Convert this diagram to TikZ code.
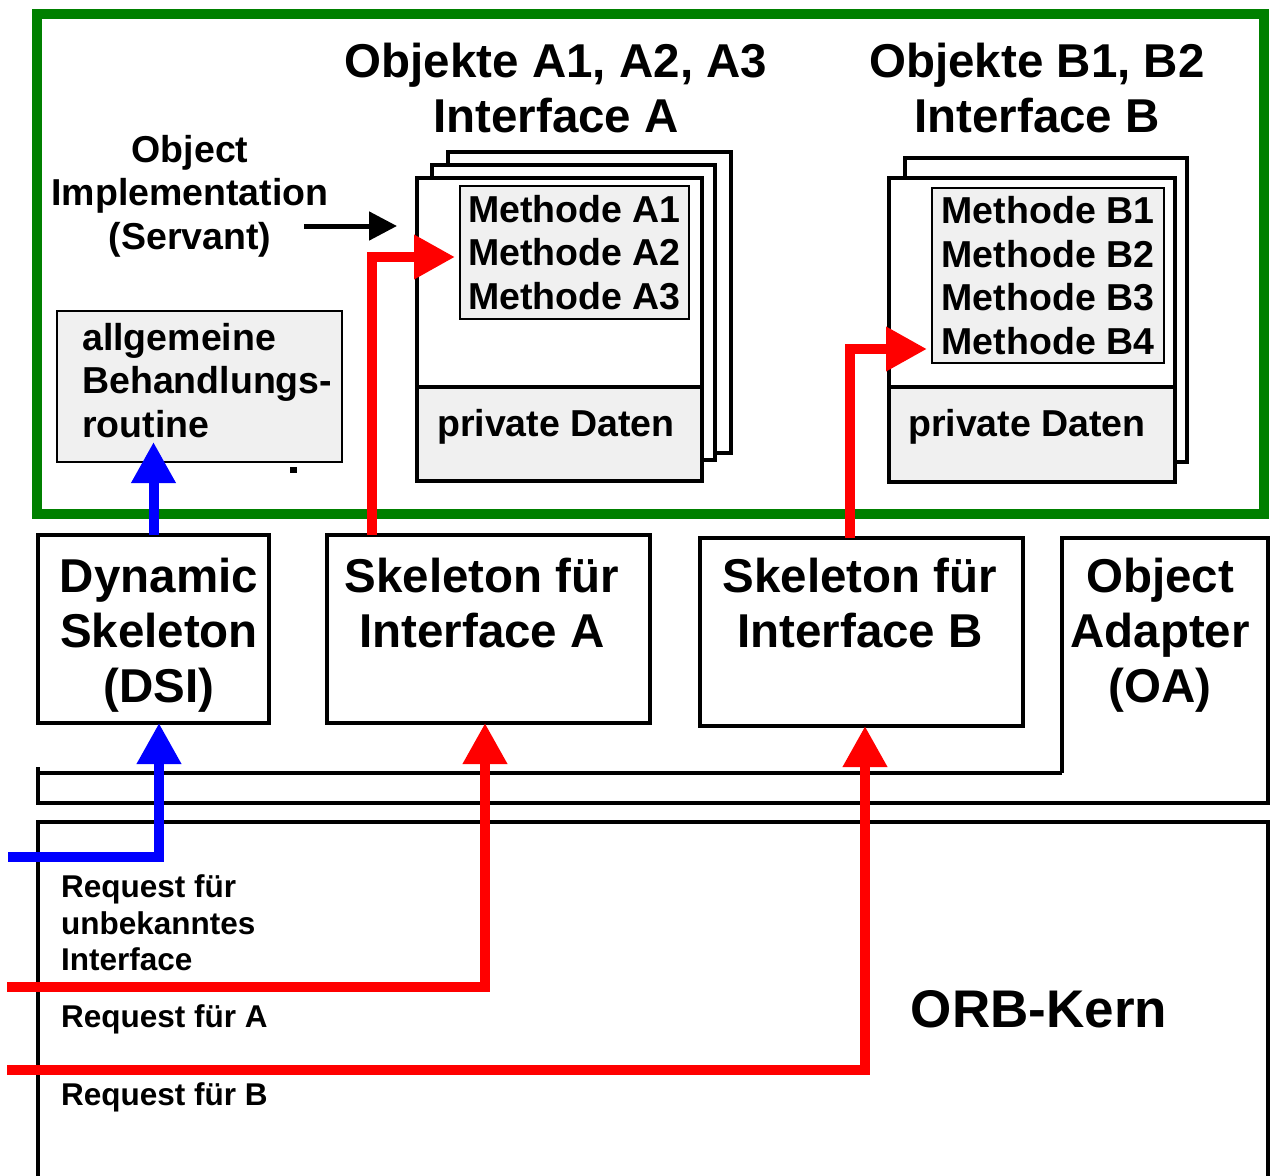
\documentclass[tikz,border=0pt]{standalone}
\usepackage{fontspec}
\setmainfont{Liberation Sans}
\usetikzlibrary{arrows.meta}
\definecolor{frgreen}{RGB}{0,128,0}
\definecolor{lgray}{RGB}{240,240,240}
\definecolor{arred}{RGB}{255,0,0}
\definecolor{arblue}{RGB}{0,0,255}
\begin{document}
\begin{tikzpicture}[x=1pt,y=-1pt,
  frame/.style={draw=frgreen, line width=10pt, inner sep=0pt, outer sep=0pt},
  card/.style={draw, line width=4.5pt, fill=white, inner sep=0pt, outer sep=0pt},
  plainbox/.style={draw, line width=4pt, fill=white, inner sep=0pt, outer sep=0pt},
  greybox/.style={draw, line width=2pt, fill=lgray, inner sep=0pt, outer sep=0pt,
     font=\fontsize{37.5}{43.5}\selectfont\bfseries, align=left},
  datbox/.style={draw, line width=4.5pt, fill=lgray, inner sep=0pt, outer sep=0pt},
  bigtext/.style={font=\fontsize{47.5}{55}\selectfont\bfseries, align=center, inner sep=0pt, anchor=north},
  midtext/.style={font=\fontsize{37.5}{43.5}\selectfont\bfseries, inner sep=0pt},
  smalltext/.style={font=\fontsize{31.5}{36.5}\selectfont\bfseries, align=left, inner sep=0pt, anchor=north west},
  orbtext/.style={font=\fontsize{53}{60}\selectfont\bfseries, inner sep=0pt, anchor=north},
  redarr/.style={draw=arred, line width=10pt, line join=miter, -{Triangle[length=41pt,width=42pt]}},
  bluearr/.style={draw=arblue, line width=10pt, line join=miter, -{Triangle[length=41pt,width=42pt]}},
  blackarr/.style={draw=black, line width=5pt, -{Triangle[length=28pt,width=28pt]}},
  outline/.style={draw, line width=4pt, line join=miter}
]
\useasboundingbox (0,0) rectangle (1270,1176);

% green frame
\node[frame, minimum width=1227, minimum height=500] (frame) at (650.5,264) {};

% titles
\node[bigtext] (titA) at (556,43) {Objekte A1, A2, A3\\Interface A};
\node[bigtext] (titB) at (1037,43) {Objekte B1, B2\\Interface B};

% object implementation label
\node[midtext, align=center, anchor=north] (impl) at (190,135) {Object\\Implementation\\(Servant)};

% general handling routine
\node[greybox, minimum width=285, minimum height=151] (allg) at (199.5,386.5) {};
\node[midtext, align=left, anchor=north west] (allgtext) at (82,323) {allgemeine\\Behandlungs-\\routine};
\fill (290,467) rectangle (297,473);

% cards A
\node[card, minimum width=283, minimum height=301] (a3) at (589.5,302.5) {};
\node[card, minimum width=283, minimum height=295] (a2) at (573.5,312.5) {};
\node[card, minimum width=285, minimum height=303] (a1) at (559.5,329.5) {};
\node[datbox, minimum width=285, minimum height=94] (datA) at (559.5,434) {};
\node[midtext, anchor=north] (datAtext) at (556,409) {private Daten};
\node[greybox, minimum width=229, minimum height=133] (methA) at (574.5,252.5)
  {Methode A1\\Methode A2\\Methode A3};

% cards B
\node[card, minimum width=282, minimum height=304] (b2) at (1046,310) {};
\node[card, minimum width=286, minimum height=304] (b1) at (1032,330) {};
\node[datbox, minimum width=286, minimum height=95] (datB) at (1032,434.5) {};
\node[midtext, anchor=north] (datBtext) at (1027,409) {private Daten};
\node[greybox, minimum width=232, minimum height=175] (methB) at (1048,275.5)
  {Methode B1\\Methode B2\\Methode B3\\Methode B4};

% skeleton boxes
\node[plainbox, minimum width=231, minimum height=188] (dsi) at (153.5,629) {};
\node[bigtext] (dsitext) at (159,558) {Dynamic\\Skeleton\\(DSI)};
\node[plainbox, minimum width=323, minimum height=188] (skelA) at (488.5,629) {};
\node[bigtext] (skelAtext) at (482,558) {Skeleton für\\Interface A};
\node[plainbox, minimum width=323, minimum height=188] (skelB) at (861.5,632) {};
\node[bigtext] (skelBtext) at (860,558) {Skeleton für\\Interface B};

% object adapter
\draw[outline] (1062,773) -- (1062,538) -- (1268,538) -- (1268,803) -- (38,803) -- (38,767);
\draw[outline] (38,773) -- (1062,773);
\node[bigtext] (oatext) at (1160,558) {Object\\Adapter\\(OA)};

% ORB core
\draw[outline] (38,1185) -- (38,822) -- (1268,822) -- (1268,1185);
\node[orbtext] (orb) at (1039,990) {ORB-Kern};
\node[smalltext] (req0) at (61,874.5) {Request für\\unbekanntes\\Interface};
\node[smalltext] (reqA) at (61,1004.5) {Request für A};
\node[smalltext] (reqB) at (61,1082.5) {Request für B};

% connectors
\coordinate (k1) at (304,226);
\coordinate (k2) at (397,226);
\draw[blackarr] (k1) -- (k2);

\coordinate (b1tip) at (153.5,442);
\draw[bluearr] (dsi.north) -- (b1tip);

\coordinate (b2start) at (8,857);
\draw[bluearr] (b2start) -| ([xshift=5.5pt]dsi.south);

\coordinate (ra1tip) at (455,257);
\draw[redarr] ([xshift=-116.5pt]skelA.north) |- (ra1tip);

\coordinate (ra2start) at (7,987);
\draw[redarr] (ra2start) -| ([xshift=-3.5pt]skelA.south);

\coordinate (rb1tip) at (927,349);
\draw[redarr] ([xshift=-11.5pt]skelB.north) |- (rb1tip);

\coordinate (rb2start) at (7,1070);
\draw[redarr] (rb2start) -| ([xshift=3.5pt]skelB.south);
\end{tikzpicture}
\end{document}
